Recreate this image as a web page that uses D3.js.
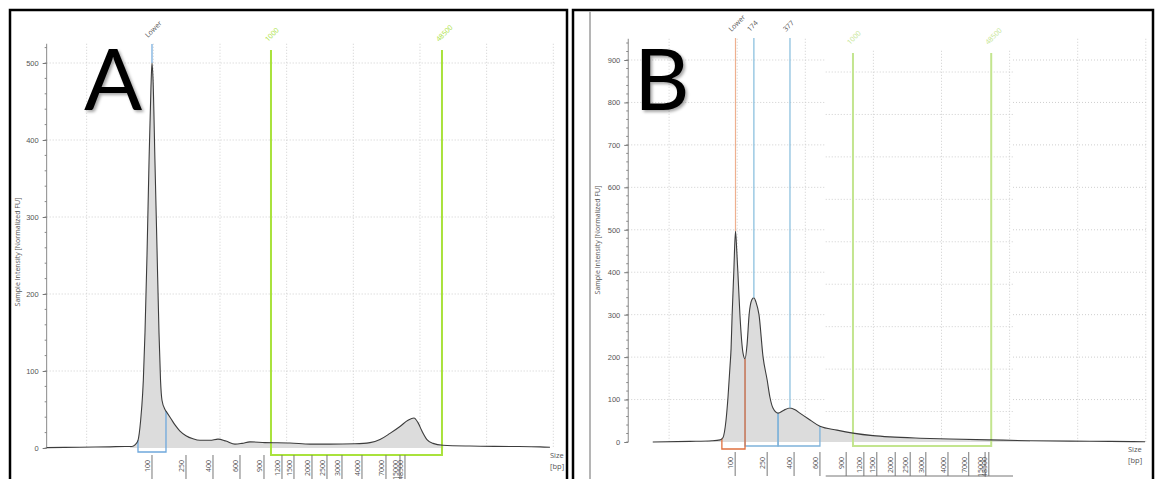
<!DOCTYPE html>
<html>
<head>
<meta charset="utf-8">
<script src="https://cdn.jsdelivr.net/npm/d3@7"></script>
<style>
  body { margin: 0; background: #fff; }
  svg { display: block; font-family: "Open Sans", "Liberation Sans", sans-serif; }
</style>
</head>
<body>
<div id="chart"></div>
<script>
// ladder sizes shown under the size axis (bp)
const ladderSizes = ['100', '250', '400', '600', '900', '1200', '1500', '2000', '2500', '3000', '4000', '7000', '15000', '48500'];
// migration position of each ladder size (run units, grid every 10)
const ladderPosA = [19.8, 24.9, 28.95, 33.0, 36.6, 39.3, 41.1, 43.8, 46.05, 48.3, 51.3, 54.9, 57.0, 57.75];
const ladderPosB = [19.7, 24.4, 28.35, 32.15, 36.0, 38.6, 40.5, 43.2, 45.4, 47.7, 50.95, 54.0, 56.4, 56.95];

// sample A trace: position / normalized FU
const posA = [4, 9, 13.5, 15.75, 16.8, 17.25, 17.7, 18.1, 18.4, 18.5, 18.75, 19.05, 19.35, 19.65, 19.8, 19.95, 20.25, 20.55, 20.85, 21.08,
  21.3, 21.75, 22.05, 22.65, 23.25, 24.0, 24.9, 25.95, 27, 28.5, 29.7, 30.9, 32.25, 33.3, 34.5, 36.75, 40.5, 43.5, 46.5, 50.25,
  52.5, 54, 55.5, 57, 58.2, 59.1, 59.7, 60.3, 61.05, 61.95, 63.45, 67.5, 73.5, 78, 79.5];
const fuA = [0.5, 1, 1.5, 2, 2, 4, 10, 36, 71, 88, 150, 250, 370, 470, 500, 480, 370, 260, 150, 88,
  62, 50, 46, 38, 30, 22, 16, 12, 10, 10, 11.5, 9, 5, 6, 8, 7, 6.5, 5, 5, 5.5,
  7, 11, 19, 28, 36, 39, 33, 22, 11, 6, 3.5, 2.5, 2, 1.5, 1];

// sample B trace
const posB = [7.6, 13.05, 16.3, 17.5, 17.9, 18.35, 18.65, 18.95, 19.1, 19.25, 19.5, 19.75, 19.92, 20.1, 20.4, 20.85, 21.15, 21.45, 21.75, 22.15,
  22.45, 22.75, 23.2, 23.8, 24.4, 24.8, 25.25, 26.0, 26.85, 27.75, 28.5, 29.2, 30.7, 32.15, 34.65, 37.0, 39.95, 42.45, 46.85, 51.25,
  57.1, 63, 68.9, 74.75, 79.9];
const fuB = [0, 1.5, 3, 5, 10, 50, 106, 180, 220, 297, 400, 497, 455, 400, 300, 210, 196, 230, 300, 335,
  340, 330, 300, 200, 146, 106, 80, 68, 75, 80, 76, 68, 52, 37, 28, 21, 15, 12, 9, 7,
  5, 3, 2, 1.5, 0.5];

// peak markers and integration regions
const markerNamesA = ['Lower'];
const markerPosA = [19.8];
const regionsA = [[17.7, 21.9]];
const rangeA = [37.65, 63.3];
const rangeLabelsA = ['1000', '48500'];

const markerNamesB = ['Lower', '174', '377'];
const markerPosB = [19.75, 22.45, 27.75];
const regionsB = [[17.75, 21.15], [21.15, 26.0], [26.0, 32.15]];
const rangeB = [37.0, 57.3];
const rangeLabelsB = ['1000', '48500'];

const W = 1155, H = 479;
const svg = d3.select('#chart').append('svg').attr('width', W).attr('height', H);

const defs = svg.append('defs');
const shadow = defs.append('filter').attr('id', 'shadow').attr('x', '-20%').attr('y', '-20%').attr('width', '150%').attr('height', '150%');
shadow.append('feDropShadow').attr('dx', 2).attr('dy', 2).attr('stdDeviation', 1.5).attr('flood-color', '#000').attr('flood-opacity', 0.35);

const panels = [
  {
    id: 'A', pos: posA, fu: fuA, ladder: ladderPosA, xRange: [20, 553.3], yDomain: [0, 500], yRange: [448, 63], yTop: 525,
    yTicks: d3.range(0, 501, 100), minor: d3.range(0, 521, 20),
    markers: markerNamesA.map((n, i) => ({ name: n, u: markerPosA[i], color: '#6fa8dc', top: 44 })),
    regions: regionsA.map((r, i) => ({ from: r[0], to: r[1], color: '#6fa8dc', dy: 4 })),
    range: rangeA, rangeLabels: rangeLabelsA, rangeColor: '#a9e23c', rangeTop: 50, rangeDy: 7,
    fill: [16.5, 63.5], grid: [[4, 80.3, 0]],
    titleX: 20, titleY: 252, sizeX: 550, letterX: 84, border: [10, 10, 567],
    tickTop: 7, tickBottom: 40, underline: null
  },
  {
    id: 'B', pos: posB, fu: fuB, ladder: ladderPosB, xRange: [601, 1145.8], yDomain: [0, 900], yRange: [442, 60], yTop: 950,
    yTicks: d3.range(0, 901, 100), minor: d3.range(0, 941, 20),
    markers: markerNamesB.map((n, i) => ({ name: n, u: markerPosB[i], color: i === 0 ? '#eeb08f' : '#84bcdc', top: 38 })),
    regions: regionsB.map((r, i) => ({ from: r[0], to: r[1], color: i === 0 ? '#e0703f' : '#7fb3da', dy: i === 0 ? 7 : 4 })),
    range: rangeB, rangeLabels: rangeLabelsB, rangeColor: '#c3e58f', rangeTop: 53, rangeDy: 4,
    fill: [15.5, 63], grid: [[4, 33.0, 0], [33.0, 60.5, 12], [60.5, 80.3, 0]],
    titleX: 600, titleY: 240, sizeX: 1128, letterX: 634, border: [573, 10, 1153],
    tickTop: 10, tickBottom: 34, underline: [33.0, 60.5]
  }
];

panels.forEach(drawPanel);

function drawPanel(p) {
  const g = svg.append('g');
  const x = d3.scaleLinear().domain([0, 80]).range(p.xRange);
  const y = d3.scaleLinear().domain(p.yDomain).range(p.yRange);
  const y0 = y(0);
  const data = p.pos.map((u, i) => ({ u: u, v: p.fu[i] }));
  const bis = d3.bisector(d => d.u).left;
  const valueAt = u => {
    const i = Math.max(1, Math.min(data.length - 1, bis(data, u)));
    const a = data[i - 1], b = data[i];
    return a.v + (b.v - a.v) * (u - a.u) / (b.u - a.u);
  };

  // grid, drawn per segment (B is stitched from shifted screenshots)
  const gridTicks = p.yTicks.filter(t => t > 0);
  p.grid.forEach(([from, to, dy]) => {
    g.append('g').selectAll('line').data(gridTicks).join('line')
      .attr('x1', x(from)).attr('x2', x(to))
      .attr('y1', d => y(d) + dy).attr('y2', d => y(d) + dy)
      .attr('stroke', '#cfcfcf').attr('stroke-dasharray', '1,2');
    g.append('g').selectAll('line').data(d3.range(10, 81, 10).filter(u => u > from && u <= to)).join('line')
      .attr('x1', d => x(d)).attr('x2', d => x(d))
      .attr('y1', y(p.yTop) + dy).attr('y2', y0)
      .attr('stroke', '#cfcfcf').attr('stroke-dasharray', '1,2');
  });

  // y axis
  const axis = g.append('g').attr('transform', `translate(${x(4)},0)`)
    .call(d3.axisLeft(y).tickValues(p.yTicks).tickSize(4).tickPadding(4));
  axis.select('.domain').attr('d', `M0,${y0}V${y(p.yTop)}`).attr('stroke', '#8a8a8a');
  axis.selectAll('.tick line').attr('stroke', '#777');
  axis.selectAll('text').attr('fill', '#555').style('font-size', '7.5px');
  g.append('g').attr('transform', `translate(${x(4)},0)`)
    .selectAll('line').data(p.minor).join('line')
    .attr('x1', -2).attr('x2', 0).attr('y1', d => y(d)).attr('y2', d => y(d))
    .attr('stroke', '#888');

  g.append('text')
    .attr('transform', `translate(${p.titleX},${p.titleY}) rotate(-90)`)
    .attr('text-anchor', 'middle').attr('fill', '#555').style('font-size', '7px')
    .text('Sample Intensity [Normalized FU]');

  // trace fill + line
  const clipId = 'clip' + p.id;
  defs.append('clipPath').attr('id', clipId).append('rect')
    .attr('x', x(p.fill[0])).attr('y', 0).attr('width', x(p.fill[1]) - x(p.fill[0])).attr('height', H);
  const area = d3.area().x(d => x(d.u)).y0(y0).y1(d => y(d.v)).curve(d3.curveMonotoneX);
  const line = d3.line().x(d => x(d.u)).y(d => y(d.v)).curve(d3.curveMonotoneX);
  g.append('path').datum(data).attr('d', area).attr('fill', '#dcdcdc').attr('clip-path', `url(#${clipId})`);

  // integration region brackets (first region drawn last so it sits on top)
  p.regions.slice().reverse().forEach(r => {
    const yb = y0 + r.dy;
    g.append('path')
      .attr('d', `M${x(r.from)},${y(valueAt(r.from))}V${yb}H${x(r.to)}V${y(valueAt(r.to))}`)
      .attr('fill', 'none').attr('stroke', r.color).attr('stroke-width', 1.3);
  });

  // size range (green)
  const yr = y0 + p.rangeDy;
  g.append('path')
    .attr('d', `M${x(p.range[0])},${p.rangeTop}V${yr}H${x(p.range[1])}V${p.rangeTop}`)
    .attr('fill', 'none').attr('stroke', p.rangeColor).attr('stroke-width', 2);
  p.rangeLabels.forEach((t, i) => {
    g.append('text')
      .attr('transform', `translate(${x(p.range[i]) - 3},${p.rangeTop - 8}) rotate(-45)`)
      .attr('fill', p.rangeColor).style('font-size', '7px').text(t);
  });

  g.append('path').datum(data).attr('d', line).attr('fill', 'none').attr('stroke', '#3c3c3c').attr('stroke-width', 1.1);

  // peak markers
  p.markers.forEach(m => {
    g.append('line')
      .attr('x1', x(m.u)).attr('x2', x(m.u)).attr('y1', m.top).attr('y2', y(valueAt(m.u)))
      .attr('stroke', m.color).attr('stroke-width', 1.2);
    g.append('text')
      .attr('transform', `translate(${x(m.u) - 4},${m.top - 6}) rotate(-45)`)
      .attr('fill', '#555').style('font-size', '7px').text(m.name);
  });

  // ladder ticks below the size axis
  const lt = g.append('g');
  lt.selectAll('line').data(p.ladder).join('line')
    .attr('x1', d => x(d)).attr('x2', d => x(d))
    .attr('y1', y0 + p.tickTop).attr('y2', y0 + p.tickBottom)
    .attr('stroke', '#777');
  lt.selectAll('text').data(p.ladder).join('text')
    .attr('transform', d => `translate(${x(d) - 2},${y0 + p.tickTop + 5}) rotate(-90)`)
    .attr('text-anchor', 'end').attr('fill', '#555').style('font-size', '7px')
    .text((d, i) => ladderSizes[i]);
  if (p.underline) {
    lt.append('line').attr('x1', x(p.underline[0])).attr('x2', x(p.underline[1]))
      .attr('y1', y0 + p.tickBottom).attr('y2', y0 + p.tickBottom).attr('stroke', '#777');
  }

  g.append('text').attr('x', p.sizeX).attr('y', y0 + 10).attr('fill', '#555').style('font-size', '7.5px').text('Size');
  g.append('text').attr('x', p.sizeX).attr('y', y0 + 21).attr('fill', '#555').style('font-size', '7.5px').text('[bp]');

  // panel letter and frame
  g.append('text').attr('x', p.letterX).attr('y', 110)
    .attr('filter', 'url(#shadow)')
    .style('font-family', 'Lato, "Open Sans", sans-serif').style('font-size', '86px').attr('fill', '#000')
    .text(p.id);
  const [bx, by, br] = p.border;
  g.append('path').attr('d', `M${bx},${H + 2}V${by}H${br}V${H + 2}`)
    .attr('fill', 'none').attr('stroke', '#000').attr('stroke-width', 2.5);
}

// gray separator line inside panel B
svg.append('line').attr('x1', 590).attr('x2', 590).attr('y1', 11).attr('y2', H)
  .attr('stroke', '#b5b5b5').attr('stroke-width', 2);
</script>
</body>
</html>
